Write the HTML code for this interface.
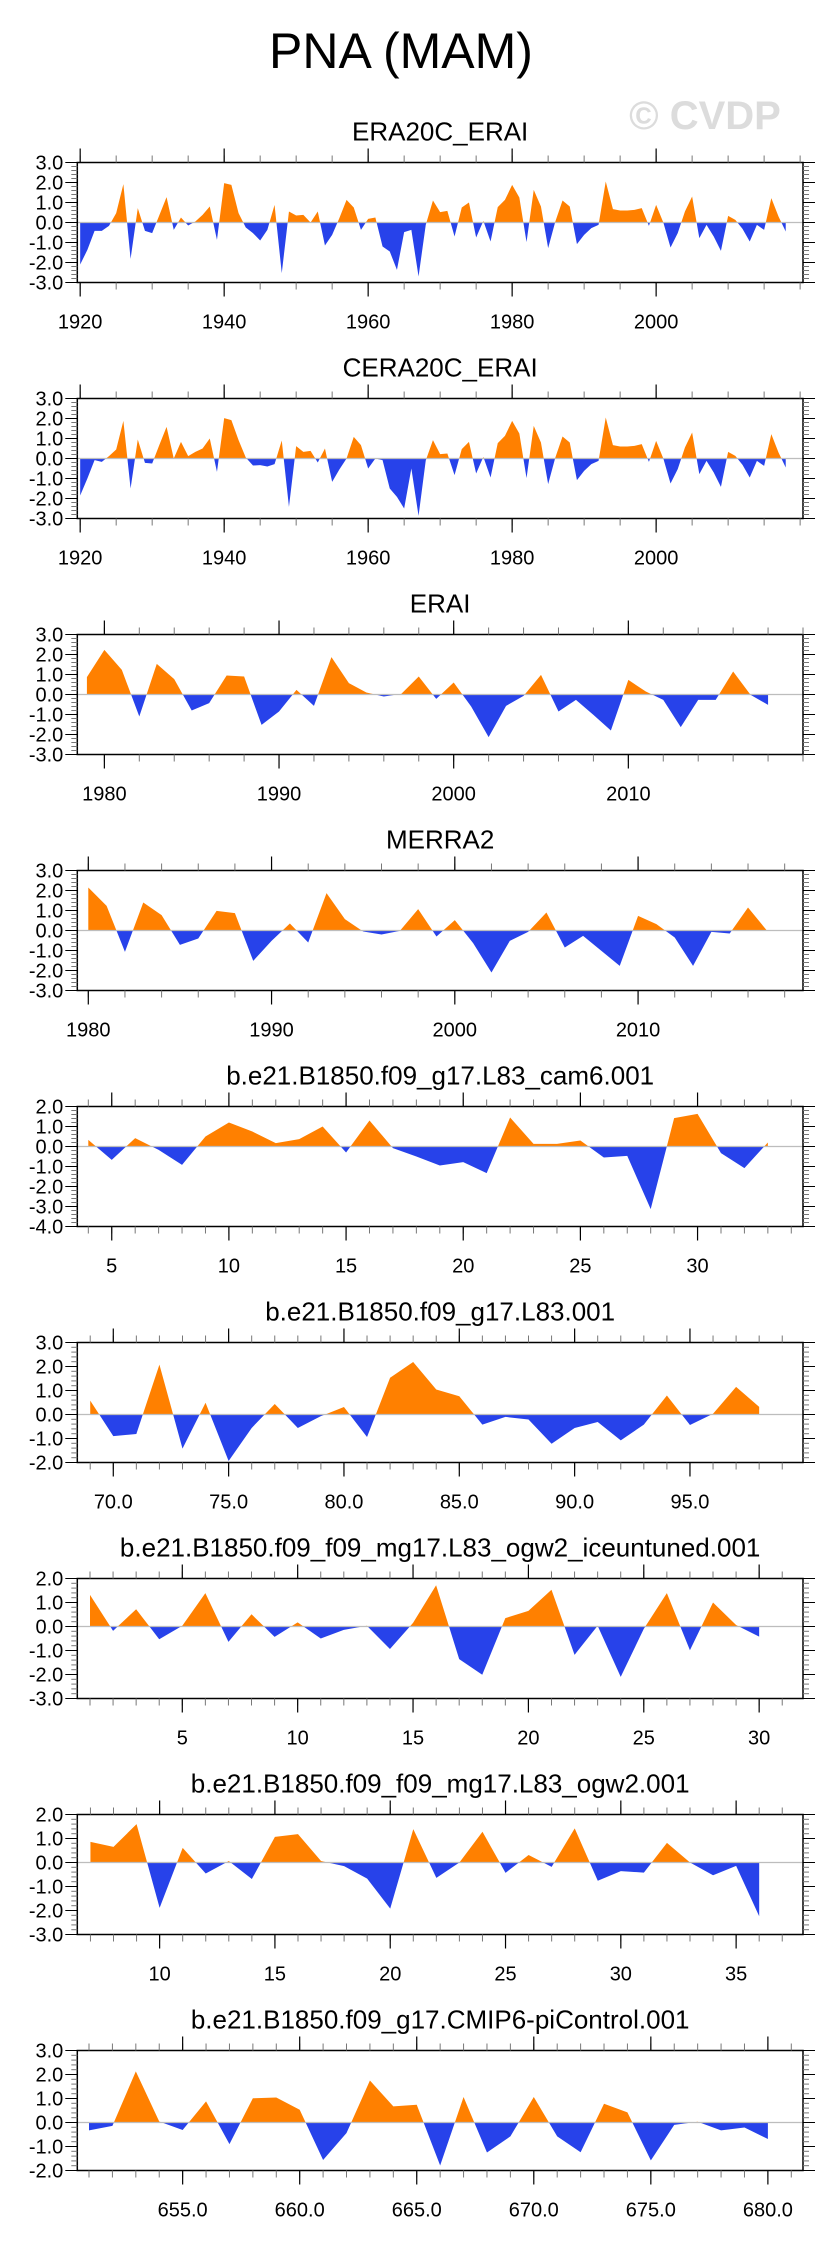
<!DOCTYPE html>
<html>
<head>
<meta charset="utf-8">
<style>
  html,body{margin:0;padding:0;background:#fff;}
  svg{display:block;font-family:"Liberation Sans",sans-serif;}
</style>
</head>
<body>
<svg id="chart" width="829" height="2245" viewBox="0 0 829 2245" xmlns="http://www.w3.org/2000/svg">
  <text x="401" y="68" font-size="50" text-anchor="middle" fill="#000">PNA (MAM)</text>
  <text x="705" y="129" font-size="40" font-weight="bold" text-anchor="middle" fill="#dcdcdc">© CVDP</text>
</svg>
<script>
// ---- data arrays ----
const titles = ["ERA20C_ERAI","CERA20C_ERAI","ERAI","MERRA2",
  "b.e21.B1850.f09_g17.L83_cam6.001","b.e21.B1850.f09_g17.L83.001",
  "b.e21.B1850.f09_f09_mg17.L83_ogw2_iceuntuned.001","b.e21.B1850.f09_f09_mg17.L83_ogw2.001",
  "b.e21.B1850.f09_g17.CMIP6-piControl.001"];
const starts = [1920,1920,1979,1980,4,69,1,7,651];
const era20c = [-2.1,-1.37,-0.42,-0.42,-0.17,0.47,1.92,-1.82,0.72,-0.42,-0.53,0.37,1.27,-0.37,0.25,-0.15,0.05,0.38,0.8,-0.87,
  1.97,1.88,0.47,-0.25,-0.53,-0.9,-0.37,0.88,-2.53,0.55,0.35,0.38,0,0.55,-1.15,-0.62,0.22,1.13,0.75,-0.37,
  0.18,0.25,-1.2,-1.45,-2.37,-0.48,-0.37,-2.7,-0.12,1.1,0.52,0.58,-0.7,0.75,1.0,-0.75,0.08,-0.95,0.77,1.13,
  1.88,1.25,-0.98,1.63,0.8,-1.28,0.05,1.1,0.8,-1.08,-0.62,-0.28,-0.12,2.05,0.67,0.6,0.6,0.63,0.72,-0.17,
  0.88,0,-1.25,-0.53,0.55,1.3,-0.78,-0.12,-0.7,-1.42,0.33,0.13,-0.32,-0.95,-0.12,-0.37,1.22,0.3,-0.45];
const cera20c = [-1.85,-1.0,-0.08,-0.17,0.12,0.45,1.88,-1.5,0.95,-0.22,-0.25,0.68,1.58,0,0.83,0.12,0.33,0.5,1.0,-0.67,
  2.02,1.92,0.92,0.05,-0.35,-0.33,-0.4,-0.28,0.9,-2.42,0.62,0.33,0.38,-0.2,0.5,-1.17,-0.55,0,1.08,0.67,
  -0.5,0,-0.08,-1.5,-1.92,-2.5,-0.5,-2.87,-0.1,0.92,0.22,0.25,-0.83,0.47,0.83,-0.75,0.08,-0.95,0.77,1.13,
  1.88,1.25,-0.98,1.63,0.8,-1.28,0.05,1.1,0.8,-1.08,-0.62,-0.28,-0.12,2.05,0.67,0.6,0.6,0.63,0.72,-0.17,
  0.88,0,-1.25,-0.53,0.55,1.3,-0.78,-0.12,-0.7,-1.42,0.33,0.13,-0.32,-0.95,-0.12,-0.37,1.22,0.3,-0.45];
const erai = [0.87,2.23,1.23,-1.1,1.53,0.77,-0.8,-0.43,0.95,0.9,-1.52,-0.85,0.23,-0.57,1.87,0.57,0.1,-0.1,0.03,0.9,
  -0.22,0.6,-0.6,-2.13,-0.57,-0.07,0.98,-0.85,-0.27,-1.02,-1.8,0.73,0.15,-0.27,-1.63,-0.27,-0.27,1.15,-0.02,-0.52];
const merra2 = [2.15,1.23,-1.07,1.4,0.77,-0.72,-0.4,0.98,0.87,-1.52,-0.52,0.35,-0.6,1.87,0.57,-0.05,-0.2,-0.02,1.07,-0.3,
  0.52,-0.63,-2.1,-0.52,-0.07,0.9,-0.85,-0.27,-1.02,-1.77,0.73,0.32,-0.35,-1.77,-0.07,-0.15,1.15,0.03];
const cam6 = [0.33,-0.67,0.42,-0.17,-0.92,0.5,1.2,0.75,0.17,0.37,1.0,-0.3,1.3,-0.08,-0.5,-0.95,-0.78,-1.33,1.45,0.13,
  0.13,0.3,-0.55,-0.47,-3.13,1.42,1.63,-0.33,-1.08,0.2];
const l83 = [0.58,-0.9,-0.81,2.08,-1.42,0.49,-1.94,-0.56,0.44,-0.56,-0.07,0.31,-0.94,1.53,2.19,1.04,0.76,-0.42,-0.1,-0.21,
  -1.22,-0.56,-0.31,-1.08,-0.42,0.79,-0.44,0.03,1.15,0.32];
const ogwIce = [1.32,-0.18,0.72,-0.53,0.03,1.39,-0.64,0.51,-0.43,0.17,-0.5,-0.14,0.03,-0.94,0.15,1.72,-1.36,-2.01,0.35,0.65,
  1.53,-1.18,0.03,-2.1,-0.1,1.39,-0.99,1.0,0.06,-0.42];
const ogw2 = [0.86,0.65,1.6,-1.89,0.61,-0.46,0.06,-0.69,1.07,1.18,0.06,-0.15,-0.67,-1.92,1.39,-0.64,0,1.28,-0.43,0.31,
  -0.18,1.42,-0.76,-0.36,-0.42,0.82,0,-0.53,-0.14,-2.24];
const picontrol = [-0.33,-0.14,2.13,0.04,-0.31,0.88,-0.9,1.01,1.04,0.53,-1.56,-0.44,1.75,0.67,0.74,-1.79,1.06,-1.25,-0.58,1.06,
  -0.58,-1.24,0.78,0.42,-1.58,-0.1,0.03,-0.33,-0.21,-0.69];
const series = [era20c,cera20c,erai,merra2,cam6,l83,ogwIce,ogw2,picontrol];
const xMins = [1919.6,1919.6,1978.45,1979.4,3.53,68.44,0.45,6.43,650.5];
const xMaxs = [2020.4,2020.4,2020.0,2019.0,34.5,99.9,31.9,37.9,681.5];
const yTops = [3,3,3,3,2,3,2,2,3];
const yBots = [-3,-3,-3,-3,-4,-2,-3,-3,-2];
const xMajorLabels = [
  ["1920","1940","1960","1980","2000"],
  ["1920","1940","1960","1980","2000"],
  ["1980","1990","2000","2010"],
  ["1980","1990","2000","2010"],
  ["5","10","15","20","25","30"],
  ["70.0","75.0","80.0","85.0","90.0","95.0"],
  ["5","10","15","20","25","30"],
  ["10","15","20","25","30","35"],
  ["655.0","660.0","665.0","670.0","675.0","680.0"]];
const xMinorSteps = [5,5,2,2,1,1,1,1,1];

// ---- drawing ----
const NS = "http://www.w3.org/2000/svg";
const svg = document.getElementById("chart");
const L = 77.3, R = 803, H = 120;
function mk(tag, attrs, parent){
  const e = document.createElementNS(NS, tag);
  for (const k in attrs) e.setAttribute(k, attrs[k]);
  (parent||svg).appendChild(e);
  return e;
}
for (let p = 0; p < series.length; p++){
  const top = 162.5 + p*236, bot = top + H;
  const g = mk("g", {});
  
  
  const xs = v => L + (v - xMins[p]) / (xMaxs[p] - xMins[p]) * (R - L);
  const ys = v => top + (yTops[p] - v) / (yTops[p] - yBots[p]) * H;
  const y0 = ys(0);
  const t = mk("text", {x:(L+R)/2, y: top-22, "font-size":26, "text-anchor":"middle", fill:"#000"}, g);
  t.textContent = titles[p];
  
  
  const defs = mk("defs", {}, g);
  const cu = mk("clipPath", {id:"cu"+p}, defs);
  mk("rect", {x:L, y:top, width:R-L, height:y0-top}, cu);
  const cd = mk("clipPath", {id:"cd"+p}, defs);
  mk("rect", {x:L, y:y0, width:R-L, height:bot-y0}, cd);
  const vals = series[p];
  let pts = [];
  const x0 = xs(starts[p]), xn = xs(starts[p] + vals.length - 1);
  pts.push(x0.toFixed(2)+","+y0.toFixed(2));
  for (let i = 0; i < vals.length; i++) pts.push(xs(starts[p]+i).toFixed(2)+","+ys(vals[i]).toFixed(2));
  pts.push(xn.toFixed(2)+","+y0.toFixed(2));
  const pu = mk("polygon", {points:pts.join(" "), fill:"#ff8000", "clip-path":"url(#cu"+p+")"}, g);
  
  
  const pd = mk("polygon", {points:pts.join(" "), fill:"#2742ea", "clip-path":"url(#cd"+p+")"}, g);
  
  
  const zl = mk("line", {x1:L, x2:R, y1:y0, y2:y0, stroke:"#bdbdbd", "stroke-width":1.2}, g);
  
  
  const fr = mk("rect", {x:L, y:top, width:R-L, height:H, fill:"none", stroke:"#000", "stroke-width":1.5}, g);
  
  
  const ya = mk("g", {}, g);
  
  
  for (let v = yBots[p]; v <= yTops[p] + 1e-9; v += 0.2){
    const vv = Math.round(v*10)/10;
    const yy = ys(vv);
    const major = Math.abs(vv - Math.round(vv)) < 1e-6;
    const len = major ? 12 : 6;
    mk("line", {x1:L-len, x2:L, y1:yy, y2:yy, stroke: major?"#000":"#777", "stroke-width":1}, ya);
    mk("line", {x1:R, x2:R+len, y1:yy, y2:yy, stroke: major?"#000":"#777", "stroke-width":1}, ya);
    if (major){
      const lt = mk("text", {x:L-14, y:yy+7, "font-size":20, "text-anchor":"end", fill:"#000"}, ya);
      lt.textContent = vv.toFixed(1);
    }
  }
  const xa = mk("g", {}, g);
  
  
  const st = xMinorSteps[p];
  for (let v = Math.ceil(xMins[p]/st)*st; v <= xMaxs[p]; v += st){
    const xx = xs(v);
    mk("line", {x1:xx, x2:xx, y1:top-7, y2:top, stroke:"#777", "stroke-width":1}, xa);
    mk("line", {x1:xx, x2:xx, y1:bot, y2:bot+7, stroke:"#777", "stroke-width":1}, xa);
  }
  xMajorLabels[p].forEach(lbl => {
    const v = parseFloat(lbl), xx = xs(v);
    mk("line", {x1:xx, x2:xx, y1:top-14, y2:top, stroke:"#000", "stroke-width":1.2}, xa);
    mk("line", {x1:xx, x2:xx, y1:bot, y2:bot+14, stroke:"#000", "stroke-width":1.2}, xa);
    const lt = mk("text", {x:xx, y:bot+46, "font-size":20, "text-anchor":"middle", fill:"#000"}, xa);
    lt.textContent = lbl;
  });
}
</script>
</body>
</html>
